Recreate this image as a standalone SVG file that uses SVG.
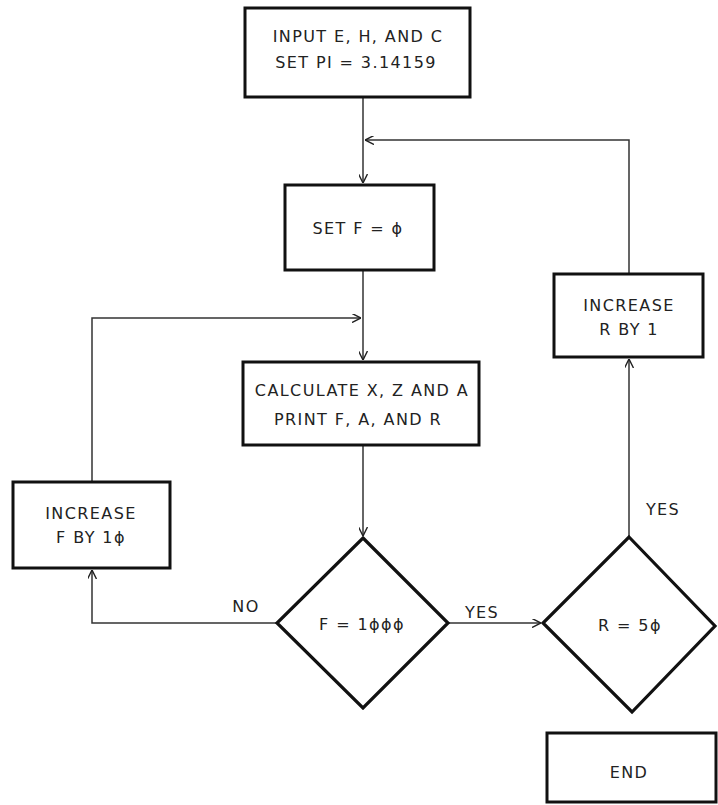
<svg xmlns="http://www.w3.org/2000/svg" width="718" height="805" viewBox="0 0 718 805">
<defs>
<marker id="arr" viewBox="0 0 10 10" refX="10" refY="5" markerWidth="9" markerHeight="9" markerUnits="userSpaceOnUse" orient="auto">
<path d="M0,0 L10,5 L0,10" fill="none" stroke="#222" stroke-width="1.6"/>
</marker>
<style>
.box{fill:#fff;stroke:#111;stroke-width:3}
.dia{fill:#fff;stroke:#111;stroke-width:3.2}
.con{fill:none;stroke:#333;stroke-width:1.5}
.t{font-family:"DejaVu Sans","Liberation Sans",sans-serif;font-size:16px;fill:#222;text-anchor:middle;letter-spacing:1.4px}
</style>
</defs>
<rect width="718" height="805" fill="#fff"/>
<g id="connectors">
<path class="con" d="M363,97 V183" marker-end="url(#arr)"/>
<path class="con" d="M629,274 V140 H365" marker-end="url(#arr)"/>
<path class="con" d="M363,270 V360" marker-end="url(#arr)"/>
<path class="con" d="M92,482 V318 H361" marker-end="url(#arr)"/>
<path class="con" d="M363,445 V536" marker-end="url(#arr)"/>
<path class="con" d="M277,623 H92 V570" marker-end="url(#arr)"/>
<path class="con" d="M448,623 H541" marker-end="url(#arr)"/>
<path class="con" d="M629,537 V359" marker-end="url(#arr)"/>
</g>
<g id="input">
<rect class="box" x="245" y="8" width="225" height="89"/>
<text class="t" x="358" y="42">INPUT E, H, AND C</text>
<text class="t" x="356" y="68">SET PI = 3.14159</text>
</g>
<g id="setf">
<rect class="box" x="285" y="185" width="149" height="85"/>
<text class="t" x="358" y="234">SET F = ϕ</text>
</g>
<g id="calc">
<rect class="box" x="243" y="362" width="236" height="83"/>
<text class="t" x="362" y="396">CALCULATE X, Z AND A</text>
<text class="t" x="358" y="425">PRINT F, A, AND R</text>
</g>
<g id="incf">
<rect class="box" x="13" y="482" width="157" height="86"/>
<text class="t" x="91" y="519">INCREASE</text>
<text class="t" x="91" y="543">F BY 1ϕ</text>
</g>
<g id="decf">
<polygon class="dia" points="363,538 448,623 363,708 277,623"/>
<text class="t" x="362" y="630">F = 1ϕϕϕ</text>
</g>
<g id="decr">
<polygon class="dia" points="629,537 715,626 632,712 543,623"/>
<text class="t" x="630" y="631">R = 5ϕ</text>
</g>
<g id="incr">
<rect class="box" x="554" y="274" width="149" height="83"/>
<text class="t" x="629" y="311">INCREASE</text>
<text class="t" x="629" y="335">R BY 1</text>
</g>
<g id="end">
<rect class="box" x="547" y="733" width="169" height="69"/>
<text class="t" x="629" y="778">END</text>
</g>
<g id="labels">
<text class="t" x="246" y="612">NO</text>
<text class="t" x="482" y="618">YES</text>
<text class="t" x="663" y="515">YES</text>
</g>
</svg>
